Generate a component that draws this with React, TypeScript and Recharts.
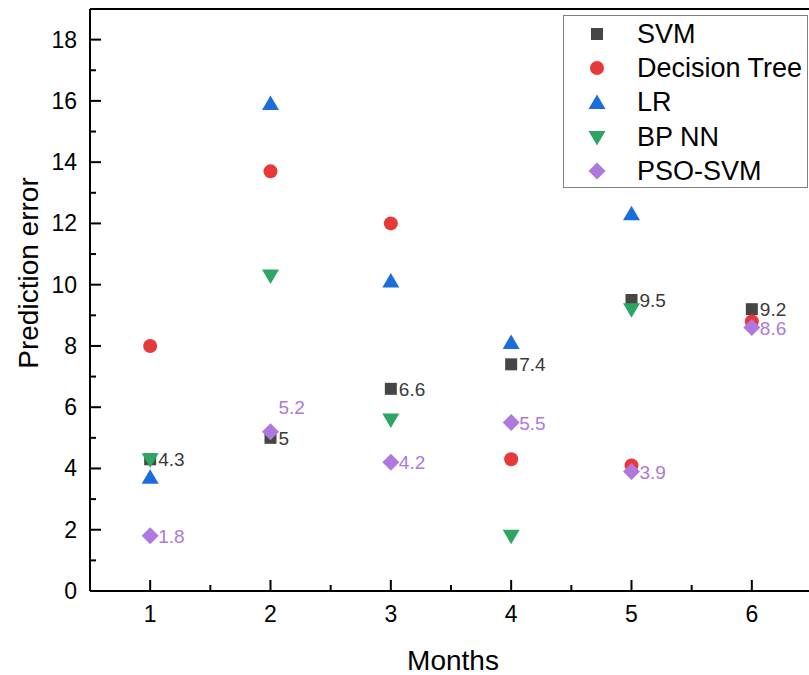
import { ScatterChart, Scatter, XAxis, YAxis, ReferenceLine, Legend, LabelList, Label } from "recharts"

const months = [1, 2, 3, 4, 5, 6]
const svm = [4.3, 5, 6.6, 7.4, 9.5, 9.2]
const decisionTree = [8.0, 13.7, 12.0, 4.3, 4.1, 8.8]
const lr: (number | null)[] = [3.7, 15.9, 10.1, 8.1, 12.3, null]
const bpNN: (number | null)[] = [4.3, 10.3, 5.6, 1.8, 9.2, null]
const psoSvm = [1.8, 5.2, 4.2, 5.5, 3.9, 8.6]

const seriesNames = ["SVM", "Decision Tree", "LR", "BP NN", "PSO-SVM"]
const yTicks = [0, 1, 2, 3, 4, 5, 6, 7, 8, 9, 10, 11, 12, 13, 14, 15, 16, 17, 18]
const xTicks = [1, 1.5, 2, 2.5, 3, 3.5, 4, 4.5, 5, 5.5, 6]

const FONT = '"Liberation Sans", Arial, Helvetica, sans-serif'

const toPoints = (vals: (number | null)[]) =>
  months.map((m, i) => ({ x: m, y: vals[i] })).filter((d) => d.y != null)

// marker shapes (origin style)
const square = (color: string) => (p: any) => (
  <rect x={p.cx - 6} y={p.cy - 6} width={12} height={12} fill={color} />
)
const circle = (color: string) => (p: any) => <circle cx={p.cx} cy={p.cy} r={7} fill={color} />
const triUp = (color: string) => (p: any) => (
  <polygon points={`${p.cx},${p.cy - 8.5} ${p.cx - 8.5},${p.cy + 6} ${p.cx + 8.5},${p.cy + 6}`} fill={color} />
)
const triDown = (color: string) => (p: any) => (
  <polygon points={`${p.cx},${p.cy + 8.5} ${p.cx - 8.5},${p.cy - 6} ${p.cx + 8.5},${p.cy - 6}`} fill={color} />
)
const diamond = (color: string) => (p: any) => (
  <polygon
    points={`${p.cx},${p.cy - 8.5} ${p.cx + 8.5},${p.cy} ${p.cx},${p.cy + 8.5} ${p.cx - 8.5},${p.cy}`}
    fill={color}
  />
)

const colors = ["#464646", "#e8393a", "#1c6ddb", "#2ea663", "#ae78de"]
const shapes = [square(colors[0]), circle(colors[1]), triUp(colors[2]), triDown(colors[3]), diamond(colors[4])]

const pointLabel = (color: string, liftIndex = -1) => (props: any) => {
  const vb = props.viewBox || props
  const cx = vb.x + vb.width / 2
  const cy = vb.y + vb.height / 2
  const lift = props.index === liftIndex ? 25 : 0
  return (
    <text x={cx + 8} y={cy + 7 - lift} fill={color} fontSize={19} fontFamily={FONT}>
      {props.value}
    </text>
  )
}

const YTick = (props: any) => {
  const { x, y, payload } = props
  const major = payload.value % 2 === 0
  return (
    <g>
      <line x1={x} x2={x + (major ? 11 : 6)} y1={y} y2={y} stroke="#000" strokeWidth={2} />
      {major && (
        <text x={x - 13} y={y + 8} textAnchor="end" fontSize={23} fontFamily={FONT} fill="#000">
          {payload.value}
        </text>
      )}
    </g>
  )
}

const XTick = (props: any) => {
  const { x, y, payload } = props
  const major = Number.isInteger(payload.value)
  return (
    <g>
      <line x1={x} x2={x} y1={y} y2={y - (major ? 11 : 6)} stroke="#000" strokeWidth={2} />
      {major && (
        <text x={x} y={y + 31} textAnchor="middle" fontSize={23} fontFamily={FONT} fill="#000">
          {payload.value}
        </text>
      )}
    </g>
  )
}

function LegendBox() {
  return (
    <div
      style={{
        boxSizing: "border-box",
        width: 245,
        height: 173,
        border: "1px solid #808080",
        background: "#fff",
        paddingTop: 1,
        fontFamily: FONT,
      }}
    >
      {seriesNames.map((name, i) => {
        const Shape = shapes[i]
        return (
          <div key={name} style={{ display: "flex", alignItems: "center", height: 34.3 }}>
            <svg width={24} height={24} style={{ marginLeft: 21, marginRight: 28 }}>
              <Shape cx={12} cy={12} />
            </svg>
            <span style={{ fontSize: 27, color: "#000", lineHeight: 1, whiteSpace: "nowrap" }}>{name}</span>
          </div>
        )
      })}
    </div>
  )
}

export default function App() {
  const all = [svm, decisionTree, lr, bpNN, psoSvm]
  return (
    <div style={{ position: "absolute", left: 8, top: 8, width: 801, height: 667, overflow: "hidden" }}>
      <ScatterChart width={810} height={667} margin={{ top: 1, right: 6, bottom: 0, left: 0 }}>
        <XAxis
          type="number"
          dataKey="x"
          domain={[0.5, 6.5]}
          ticks={xTicks}
          interval={0}
          height={84}
          allowDataOverflow
          axisLine={{ stroke: "#000", strokeWidth: 2 }}
          tickLine={false}
          tickSize={0}
          tickMargin={0}
          tick={XTick}
        >
          <Label
            content={(p: any) => (
              <text
                x={p.viewBox.x + p.viewBox.width / 2 + 2}
                y={p.viewBox.y + 79}
                textAnchor="middle"
                fontSize={28}
                fontFamily={FONT}
                fill="#000"
              >
                Months
              </text>
            )}
          />
        </XAxis>
        <YAxis
          type="number"
          dataKey="y"
          domain={[0, 19]}
          ticks={yTicks}
          interval={0}
          width={82}
          allowDataOverflow
          axisLine={{ stroke: "#000", strokeWidth: 2 }}
          tickLine={false}
          tickSize={0}
          tickMargin={0}
          tick={YTick}
        >
          <Label
            content={(p: any) => {
              const x = p.viewBox.x + 30
              const y = p.viewBox.y + p.viewBox.height / 2 - 27
              return (
                <text
                  x={x}
                  y={y}
                  transform={`rotate(-90, ${x}, ${y})`}
                  textAnchor="middle"
                  fontSize={28}
                  fontFamily={FONT}
                  fill="#000"
                >
                  Prediction error
                </text>
              )
            }}
          />
        </YAxis>
        <ReferenceLine y={19} stroke="#000" strokeWidth={2} />
        {all.map((vals, i) => (
          <Scatter
            key={seriesNames[i]}
            name={seriesNames[i]}
            data={toPoints(vals)}
            dataKey="y"
            shape={shapes[i]}
            isAnimationActive={false}
          >
            {i === 0 && <LabelList dataKey="y" content={pointLabel("#3a3a3a")} />}
            {i === 4 && <LabelList dataKey="y" content={pointLabel(colors[4], 1)} />}
          </Scatter>
        ))}
        <Legend
          layout="vertical"
          align="center"
          verticalAlign="middle"
          wrapperStyle={{ left: 555, top: 7, width: 245, height: 173 }}
          content={() => <LegendBox />}
        />
      </ScatterChart>
    </div>
  )
}
